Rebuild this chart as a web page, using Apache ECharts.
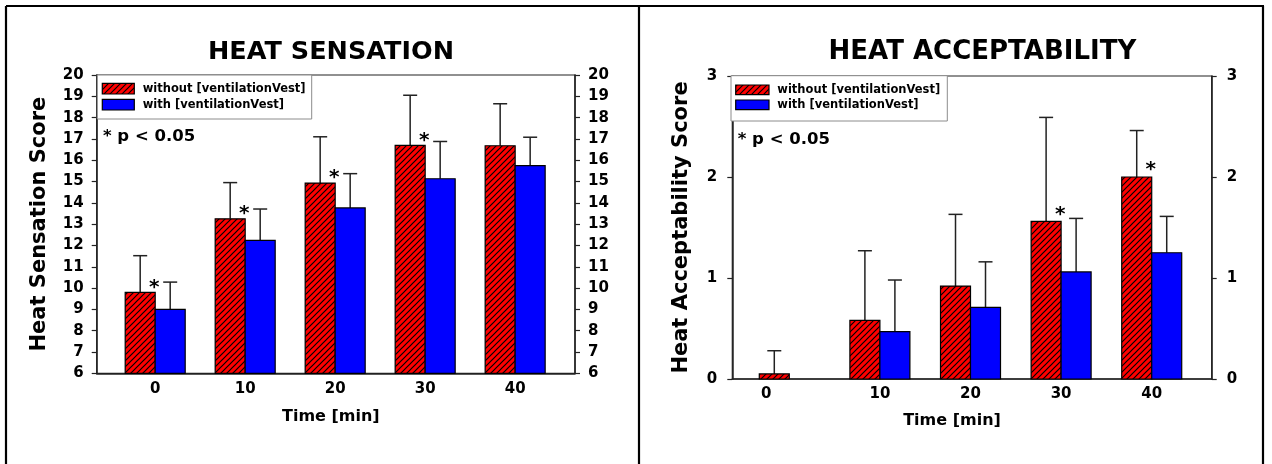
<!DOCTYPE html>
<html><head><meta charset="utf-8">
<script src="https://cdn.jsdelivr.net/npm/echarts@6/dist/echarts.min.js"></script>
<style>html,body{margin:0;padding:0;background:#fff}#c{width:1272px;height:464px}</style>
</head><body><div id="c"></div>
<script>
// ---------- data ----------
const times = [0, 10, 20, 30, 40];
const timeLabels = ['0', '10', '20', '30', '40'];
const legendNames = ['without [ventilationVest]', 'with [ventilationVest]'];
const titles = ['HEAT SENSATION', 'HEAT ACCEPTABILITY'];
const yNames = ['Heat Sensation Score', 'Heat Acceptability Score'];
const xName = 'Time [min]';
const sigNote = '* p < 0.05';

const sensationWithout   = [9.8, 13.25, 14.93, 16.7, 16.68];
const sensationWithoutSD = [1.72, 1.70, 2.17, 2.35, 1.97];
const sensationWith      = [9.0, 12.24, 13.76, 15.13, 15.75];
const sensationWithSD    = [1.28, 1.47, 1.61, 1.75, 1.33];
const sensationSig       = [true, true, true, true, false];
const sensationRange     = [6, 20];

const acceptWithout   = [0.05, 0.58, 0.92, 1.56, 2.0];
const acceptWithoutSD = [0.23, 0.69, 0.71, 1.03, 0.46];
const acceptWith      = [null, 0.47, 0.71, 1.06, 1.25];
const acceptWithSD    = [null, 0.51, 0.45, 0.53, 0.36];
const acceptSig       = [false, false, false, true, true];
const acceptRange     = [0, 3];

// ---------- styling / layout ----------
const FONT = "'DejaVu Sans', sans-serif";
const BAR_W = 30, CAP_W = 14;
const AXIS_COLOR = '#222';

function makeHatch() {
  const s = 6, c = document.createElement('canvas');
  c.width = s; c.height = s;
  const g = c.getContext('2d');
  g.fillStyle = '#ff0000'; g.fillRect(0, 0, s, s);
  g.strokeStyle = '#000'; g.lineWidth = 1.2;
  g.beginPath();
  g.moveTo(0, s); g.lineTo(s, 0);
  g.moveTo(-1, 1); g.lineTo(1, -1);
  g.moveTo(s - 1, s + 1); g.lineTo(s + 1, s - 1);
  g.stroke();
  return c;
}
const hatch = { image: makeHatch(), repeat: 'repeat' };
const BLUE = '#0000ff';

const charts = [
  {
    title: titles[0], yName: yNames[0], range: sensationRange,
    without: sensationWithout, withoutSD: sensationWithoutSD,
    withV: sensationWith, withSD: sensationWithSD, sig: sensationSig,
    grid: { left: 96.7, top: 75, width: 478.3, height: 298.3 },
    xMin: -6.5, xMax: 46.65, titleX: 331, titleSize: 25.5,
    yNameGap: 47, yLabelMargin: 13, xNameGap: 36, xNamePad: 10,
    legend: { x: 97.3, y: 75, w: 214.4, h: 44, sx: 102.3, sw: 32, rows: [83.3, 99.3], sh: 10.7, tx: 142.7 },
    note: { x: 103, y: 137 }, starDy: -5, shiftZero: false
  },
  {
    title: titles[1], yName: yNames[1], range: acceptRange,
    without: acceptWithout, withoutSD: acceptWithoutSD,
    withV: acceptWith, withSD: acceptWithSD, sig: acceptSig,
    grid: { left: 732.3, top: 76, width: 479.4, height: 303 },
    xMin: -6.29, xMax: 46.62, titleX: 982.4, titleSize: 26,
    yNameGap: 40, yLabelMargin: 15, xNameGap: 34, xNamePad: 40,
    legend: { x: 731, y: 75.7, w: 216.3, h: 45.3, sx: 735.7, sw: 33.3, rows: [85, 100], sh: 9.7, tx: 777.3 },
    note: { x: 737.7, y: 140 }, starDy: -7, shiftZero: true
  }
];

function barSeries(ci, values, sds, side, fill) {
  const c = charts[ci];
  const data = [];
  times.forEach((t, i) => { if (values[i] != null) data.push([t, values[i], sds[i] || 0]); });
  return {
    type: 'custom', xAxisIndex: ci, yAxisIndex: ci * 2, data,
    encode: { x: 0, y: 1 },
    renderItem: (params, api) => {
      const x = api.value(0), v = api.value(1), sd = api.value(2);
      const p0 = api.coord([x, c.range[0]]);
      const p1 = api.coord([x, v]);
      const pe = api.coord([x, v + sd]);
      const left = side < 0 ? p0[0] - BAR_W : p0[0];
      const cx = left + BAR_W / 2;
      const children = [];
      if (sd > 0) {
        children.push({ type: 'line', shape: { x1: cx, y1: p1[1], x2: cx, y2: pe[1] }, style: { stroke: AXIS_COLOR, lineWidth: 1.5 } });
        children.push({ type: 'line', shape: { x1: cx - CAP_W / 2, y1: pe[1], x2: cx + CAP_W / 2, y2: pe[1] }, style: { stroke: AXIS_COLOR, lineWidth: 1.5 } });
      }
      children.push({ type: 'rect', shape: { x: left, y: p1[1], width: BAR_W, height: p0[1] - p1[1] }, style: { fill, stroke: '#000', lineWidth: 1.2 } });
      return { type: 'group', children };
    }
  };
}

function starSeries(ci) {
  const c = charts[ci];
  const data = [];
  times.forEach((t, i) => { if (c.sig[i]) data.push([t, c.without[i]]); });
  return {
    type: 'custom', xAxisIndex: ci, yAxisIndex: ci * 2, data,
    encode: { x: 0, y: 1 },
    renderItem: (params, api) => {
      const p = api.coord([api.value(0), api.value(1)]);
      return { type: 'text', x: p[0] - 1, y: p[1] + c.starDy,
        style: { text: '*', fontFamily: FONT, fontWeight: 'bold', fontSize: 20, fill: '#000', textAlign: 'center', textVerticalAlign: 'middle' } };
    }
  };
}

const textStyleBold = (size) => ({ fontFamily: FONT, fontWeight: 'bold', fontSize: size, color: '#000' });

const grids = [], xAxes = [], yAxes = [], series = [], graphics = [];
charts.forEach((c, ci) => {
  grids.push(Object.assign({ show: true, borderColor: AXIS_COLOR, borderWidth: 1.2, backgroundColor: 'transparent' }, c.grid));
  xAxes.push({
    gridIndex: ci, type: 'value', min: c.xMin, max: c.xMax,
    axisLine: { show: true, onZero: false, lineStyle: { color: AXIS_COLOR, width: 1.5 } },
    axisTick: { show: false }, splitLine: { show: false },
    axisLabel: Object.assign({
      customValues: times, margin: 8,
      formatter: (v) => {
        const lab = timeLabels[times.indexOf(v)];
        return (c.shiftZero && v === times[0]) ? '{shift|' + lab + '}' : lab;
      },
      rich: { shift: Object.assign({ padding: [0, 46, 0, 0] }, textStyleBold(15)) }
    }, textStyleBold(15)),
    name: xName, nameLocation: 'middle', nameGap: c.xNameGap,
    nameTextStyle: Object.assign({ padding: [0, c.xNamePad, 0, 0] }, textStyleBold(16))
  });
  ['left', 'right'].forEach((pos, k) => {
    yAxes.push({
      gridIndex: ci, type: 'value', position: pos, min: c.range[0], max: c.range[1], interval: 1,
      axisLine: { show: true, onZero: false, lineStyle: { color: AXIS_COLOR, width: 1.5 } },
      axisTick: { show: true, inside: false, length: 5, lineStyle: { color: AXIS_COLOR, width: 1.2 } },
      splitLine: { show: false },
      axisLabel: Object.assign({ margin: c.yLabelMargin }, textStyleBold(15)),
      name: k === 0 ? c.yName : '', nameLocation: 'middle', nameRotate: 90, nameGap: c.yNameGap,
      nameTextStyle: textStyleBold(21)
    });
  });
  series.push(barSeries(ci, c.without, c.withoutSD, -1, hatch));
  series.push(barSeries(ci, c.withV, c.withSD, 1, BLUE));
  series.push(starSeries(ci));

  // title
  graphics.push({ type: 'text', x: c.titleX, y: 52,
    style: { text: c.title, fontFamily: FONT, fontWeight: 'bold', fontSize: c.titleSize, fill: '#000', textAlign: 'center', textVerticalAlign: 'middle' } });
  // legend box
  const L = c.legend;
  graphics.push({ type: 'rect', shape: { x: L.x, y: L.y, width: L.w, height: L.h }, style: { fill: '#fff', stroke: '#8c8c8c', lineWidth: 1 }, z: 10 });
  [hatch, BLUE].forEach((f, r) => {
    graphics.push({ type: 'rect', shape: { x: L.sx, y: L.rows[r], width: L.sw, height: L.sh }, style: { fill: f, stroke: '#000', lineWidth: 1.2 }, z: 11 });
    graphics.push({ type: 'text', x: L.tx, y: L.rows[r] + L.sh / 2,
      style: { text: legendNames[r], fontFamily: FONT, fontWeight: 'bold', fontSize: 11.5, fill: '#000', textAlign: 'left', textVerticalAlign: 'middle' }, z: 11 });
  });
  // significance note
  graphics.push({ type: 'text', x: c.note.x, y: c.note.y,
    style: { text: sigNote, fontFamily: FONT, fontWeight: 'bold', fontSize: 16.5, fill: '#000', textAlign: 'left', textVerticalAlign: 'middle' }, z: 11 });
});

// outer frame
[[6, 6, 1264, 6], [6, 6, 6, 464], [639, 6, 639, 464], [1263, 6, 1263, 464]].forEach(s => {
  graphics.push({ type: 'line', shape: { x1: s[0], y1: s[1], x2: s[2], y2: s[3] }, style: { stroke: '#000', lineWidth: 2.2 } });
});

const chart = echarts.init(document.getElementById('c'), null, { renderer: 'canvas' });
chart.setOption({
  animation: false,
  backgroundColor: '#fff',
  grid: grids, xAxis: xAxes, yAxis: yAxes, series, graphic: graphics
});
</script>
</body></html>
